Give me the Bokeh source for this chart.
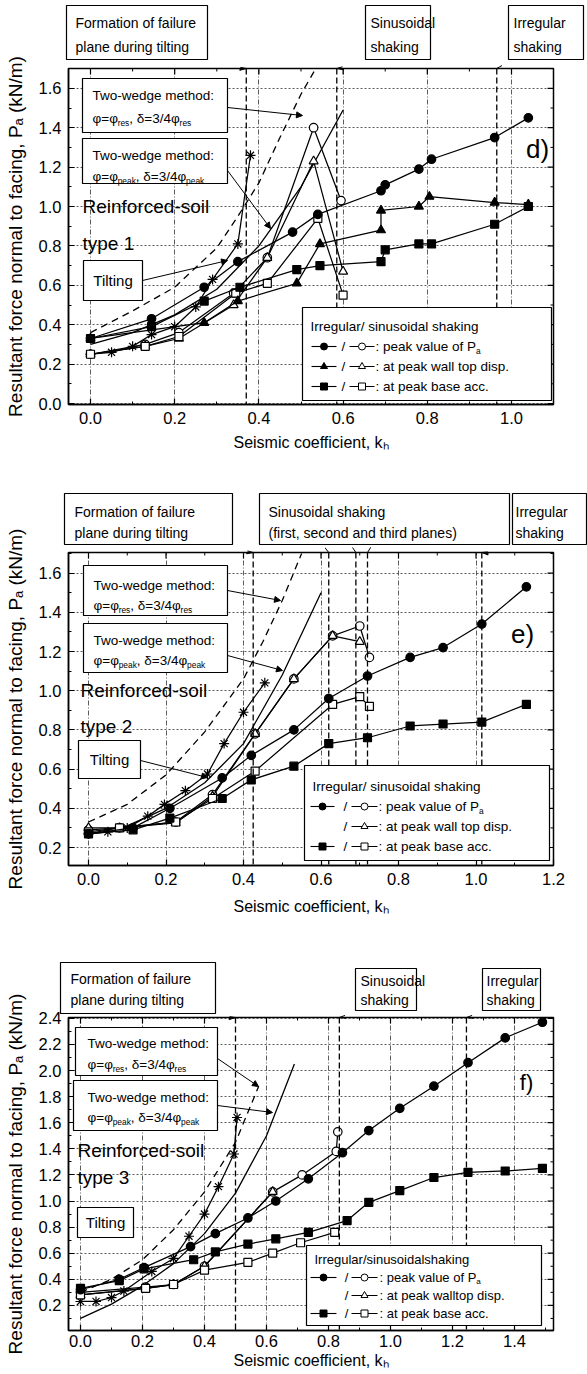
from bokeh.plotting import figure
from bokeh.layouts import column
from bokeh.models import Range1d, Arrow, NormalHead, FixedTicker, NumeralTickFormatter, Span
from bokeh.core.properties import value
from bokeh.embed import file_html
from bokeh.resources import INLINE

FONT = "Liberation Sans"
PAGE_W = 587

# ---------------- panel d : Reinforced-soil type 1 ----------------
d_tilt_x = [0.0, 0.05, 0.10, 0.145, 0.20, 0.25, 0.29, 0.35, 0.38]
d_tilt_y = [0.25, 0.26, 0.29, 0.35, 0.39, 0.49, 0.63, 0.81, 1.26]
d_irr_peak_x = [0.0, 0.145, 0.27, 0.35, 0.48, 0.54, 0.69, 0.70, 0.78, 0.81, 0.96, 1.04]
d_irr_peak_y = [0.33, 0.43, 0.59, 0.72, 0.87, 0.96, 1.08, 1.11, 1.19, 1.24, 1.35, 1.45]
d_irr_disp_x = [0.0, 0.27, 0.35, 0.49, 0.545, 0.69, 0.69, 0.78, 0.805, 0.96, 1.04]
d_irr_disp_y = [0.33, 0.41, 0.52, 0.61, 0.81, 0.88, 0.98, 1.00, 1.05, 1.02, 1.01]
d_irr_acc_x = [0.0, 0.145, 0.27, 0.355, 0.49, 0.545, 0.69, 0.70, 0.78, 0.81, 0.96, 1.04]
d_irr_acc_y = [0.33, 0.39, 0.52, 0.59, 0.68, 0.70, 0.72, 0.78, 0.81, 0.81, 0.91, 1.00]
d_sin_peak_x = [0.0, 0.13, 0.21, 0.34, 0.42, 0.53, 0.595]
d_sin_peak_y = [0.25, 0.30, 0.36, 0.56, 0.74, 1.40, 1.03]
d_sin_disp_x = [0.0, 0.13, 0.21, 0.34, 0.42, 0.53, 0.60]
d_sin_disp_y = [0.25, 0.29, 0.33, 0.50, 0.74, 1.23, 0.67]
d_sin_acc_x = [0.0, 0.13, 0.21, 0.345, 0.42, 0.54, 0.60]
d_sin_acc_y = [0.25, 0.29, 0.34, 0.56, 0.61, 0.94, 0.55]
d_tw_res_x = [0.0, 0.1, 0.2, 0.3, 0.35, 0.4, 0.45, 0.5, 0.535]
d_tw_res_y = [0.36, 0.47, 0.59, 0.79, 0.95, 1.12, 1.35, 1.57, 1.70]
d_tw_peak_x = [0.0, 0.1, 0.2, 0.3, 0.4, 0.5, 0.6]
d_tw_peak_y = [0.30, 0.36, 0.45, 0.58, 0.80, 1.10, 1.49]
d_mark_tilt = [0.37]
d_mark_sin = [0.585]
d_mark_irr = [0.965]
d_xticks = [0.0, 0.2, 0.4, 0.6, 0.8, 1.0]
d_yticks = [0.0, 0.2, 0.4, 0.6, 0.8, 1.0, 1.2, 1.4, 1.6]

# ---------------- panel e : Reinforced-soil type 2 ----------------
e_tilt_x = [0.0, 0.05, 0.10, 0.153, 0.196, 0.25, 0.307, 0.35, 0.40, 0.455]
e_tilt_y = [0.27, 0.28, 0.30, 0.36, 0.42, 0.49, 0.575, 0.73, 0.89, 1.04]
e_irr_peak_x = [0.0, 0.115, 0.21, 0.345, 0.42, 0.53, 0.62, 0.72, 0.83, 0.915, 1.015, 1.13]
e_irr_peak_y = [0.27, 0.30, 0.40, 0.555, 0.67, 0.80, 0.96, 1.075, 1.17, 1.22, 1.34, 1.53]
e_irr_acc_x = [0.0, 0.115, 0.21, 0.345, 0.42, 0.53, 0.62, 0.72, 0.83, 0.915, 1.015, 1.13]
e_irr_acc_y = [0.27, 0.29, 0.35, 0.45, 0.545, 0.615, 0.73, 0.76, 0.82, 0.83, 0.84, 0.93]
e_sin_peak_x = [0.0, 0.08, 0.225, 0.32, 0.43, 0.53, 0.63, 0.70, 0.725]
e_sin_peak_y = [0.29, 0.30, 0.33, 0.47, 0.78, 1.06, 1.28, 1.33, 1.17]
e_sin_disp_x = [0.0, 0.08, 0.225, 0.32, 0.43, 0.53, 0.63, 0.70]
e_sin_disp_y = [0.30, 0.30, 0.325, 0.46, 0.78, 1.06, 1.28, 1.25]
e_sin_acc_x = [0.0, 0.08, 0.225, 0.32, 0.43, 0.63, 0.70, 0.725]
e_sin_acc_y = [0.28, 0.30, 0.33, 0.45, 0.59, 0.93, 0.97, 0.92]
e_tw_res_x = [0.0, 0.1, 0.2, 0.3, 0.4, 0.45, 0.5, 0.55]
e_tw_res_y = [0.33, 0.42, 0.57, 0.79, 1.06, 1.25, 1.46, 1.70]
e_tw_peak_x = [0.0, 0.1, 0.2, 0.3, 0.4, 0.5, 0.6]
e_tw_peak_y = [0.27, 0.31, 0.40, 0.53, 0.73, 1.08, 1.50]
e_mark_tilt = [0.425]
e_mark_sin = [0.62, 0.69, 0.72]
e_mark_irr = [1.015]
e_xticks = [0.0, 0.2, 0.4, 0.6, 0.8, 1.0, 1.2]
e_yticks = [0.2, 0.4, 0.6, 0.8, 1.0, 1.2, 1.4, 1.6]

# ---------------- panel f : Reinforced-soil type 3 ----------------
f_tilt_x = [0.0, 0.05, 0.10, 0.14, 0.23, 0.30, 0.35, 0.40, 0.445, 0.495, 0.505]
f_tilt_y = [0.23, 0.23, 0.26, 0.31, 0.46, 0.56, 0.73, 0.90, 1.11, 1.36, 1.64]
f_irr_peak_x = [0.0, 0.125, 0.205, 0.355, 0.435, 0.54, 0.63, 0.735, 0.845, 0.93, 1.03, 1.14, 1.25, 1.37, 1.49]
f_irr_peak_y = [0.32, 0.40, 0.49, 0.65, 0.75, 0.87, 1.00, 1.17, 1.37, 1.54, 1.71, 1.88, 2.06, 2.25, 2.37]
f_irr_acc_x = [0.0, 0.125, 0.205, 0.365, 0.435, 0.54, 0.63, 0.735, 0.86, 0.93, 1.03, 1.14, 1.25, 1.37, 1.49]
f_irr_acc_y = [0.33, 0.39, 0.48, 0.55, 0.61, 0.67, 0.71, 0.76, 0.85, 0.99, 1.08, 1.18, 1.22, 1.23, 1.25]
f_sin_peak_x = [0.0, 0.21, 0.30, 0.40, 0.62, 0.715, 0.825, 0.83]
f_sin_peak_y = [0.30, 0.34, 0.36, 0.50, 1.07, 1.20, 1.38, 1.53]
f_sin_disp_x = [0.0, 0.21, 0.30, 0.40, 0.62]
f_sin_disp_y = [0.28, 0.33, 0.36, 0.50, 1.07]
f_sin_acc_x = [0.0, 0.21, 0.30, 0.40, 0.54, 0.62, 0.71, 0.82]
f_sin_acc_y = [0.28, 0.33, 0.36, 0.47, 0.53, 0.60, 0.68, 0.76]
f_tw_res_x = [0.0, 0.1, 0.2, 0.3, 0.4, 0.5, 0.575]
f_tw_res_y = [0.30, 0.40, 0.55, 0.78, 1.07, 1.45, 1.88]
f_tw_peak_x = [0.0, 0.1, 0.2, 0.3, 0.4, 0.5, 0.6, 0.69]
f_tw_peak_y = [0.10, 0.21, 0.35, 0.52, 0.75, 1.06, 1.50, 2.05]
f_mark_tilt = [0.50]
f_mark_sin = [0.835]
f_mark_irr = [1.245]
f_xticks = [0.0, 0.2, 0.4, 0.6, 0.8, 1.0, 1.2, 1.4]
f_yticks = [0.0, 0.2, 0.4, 0.6, 0.8, 1.0, 1.2, 1.4, 1.6, 1.8, 2.0, 2.2, 2.4]

X_LABEL = "Seismic coefficient, k\u2095"
Y_LABEL = "Resultant force normal to facing, P\u2090 (kN/m)"

# ---------------- helpers ----------------
_W = {' ': 278, '!': 278, '(': 333, ')': 333, ',': 278, '-': 333, '.': 278, '/': 278, ':': 278, '=': 584,
      'A': 667, 'B': 667, 'C': 722, 'D': 722, 'E': 667, 'F': 611, 'G': 778, 'H': 722, 'I': 278, 'J': 500,
      'K': 667, 'L': 556, 'M': 833, 'N': 722, 'O': 778, 'P': 667, 'R': 722, 'S': 667, 'T': 611, 'U': 722,
      'W': 944, 'a': 556, 'b': 556, 'c': 500, 'd': 556, 'e': 556, 'f': 278, 'g': 556, 'h': 556, 'i': 222,
      'j': 222, 'k': 500, 'l': 222, 'm': 833, 'n': 556, 'o': 556, 'p': 556, 'q': 556, 'r': 333, 's': 500,
      't': 278, 'u': 556, 'v': 500, 'w': 722, 'x': 500, 'y': 500, 'z': 500, '\u03c6': 640, '\u03b4': 556}


def tw(s, fs):
    return sum(_W.get(c, 556) for c in s) / 1000.0 * fs


def txt(p, conv, px, py, s, fs, align="left"):
    x, y = conv(px, py)
    p.text(x=[x], y=[y], text=[s], text_font=value(FONT), text_font_size=f"{fs:.1f}px",
           text_align=align, text_baseline="middle", text_color="black", level="overlay")


def rich(p, conv, px, py, parts, fs):
    cx = px
    for s, sub in parts:
        f = fs * 0.62 if sub else fs
        yy = py + (fs * 0.33 if sub else 0)
        txt(p, conv, cx, yy, s, f)
        cx += tw(s, f)


def box(p, conv, l, t, r, b, lw=1.2):
    x1, y1 = conv(l, t)
    x2, y2 = conv(r, b)
    p.quad(left=[x1], right=[x2], top=[y1], bottom=[y2], fill_color="white", line_color="black",
           line_width=lw, level="overlay")


def arrow(p, conv, x1, y1, x2, y2):
    a, b = conv(x1, y1)
    c, d = conv(x2, y2)
    p.add_layout(Arrow(end=NormalHead(size=6, fill_color="black", line_color="black", line_width=1),
                       x_start=a, y_start=b, x_end=c, y_end=d, line_color="black", line_width=1))


MSIZE = {"circle": 8.5, "triangle": 9, "square": 8, "asterisk": 10}


def series(p, xs, ys, marker, filled):
    p.line(xs, ys, line_color="black", line_width=1.25)
    p.scatter(xs, ys, marker=marker, size=MSIZE[marker], line_color="black", line_width=1.2,
              fill_color="black" if filled else "white")


FRAME_L, FRAME_R = 68, 553


def plot_fig(sp):
    x0, xs, y0, ys = sp["x0"], sp["xs"], sp["y0"], sp["ys"]
    X = lambda px: (px - x0) / xs
    Y = lambda py: (y0 - py) / ys
    L, R, T, B = FRAME_L, FRAME_R, sp["T"], sp["B"]
    top, h = sp["page_top"], sp["h"]
    p = figure(width=PAGE_W, height=h, x_range=Range1d(X(L), X(R)), y_range=Range1d(Y(B), Y(T)),
               output_backend="svg", toolbar_location=None,
               min_border_left=L, min_border_right=PAGE_W - R, min_border_top=T - top,
               min_border_bottom=top + h - B, x_axis_label=X_LABEL, y_axis_label=Y_LABEL)
    p.outline_line_color = "black"
    p.outline_line_width = 1.5
    xt, yt = sp["xticks"], sp["yticks"]
    xlo, xhi, ylo, yhi = X(L), X(R), Y(B), Y(T)
    xminor = [round(v + 0.1, 3) for v in xt] + [round(xt[0] - 0.1, 3)]
    xminor = [v for v in xminor if xlo < v < xhi]
    yminor = [round(v + 0.1, 3) for v in yt] + [round(yt[0] - 0.1, 3)]
    yminor = [v for v in yminor if ylo < v < yhi]
    p.xaxis.ticker = FixedTicker(ticks=xt, minor_ticks=xminor)
    p.yaxis.ticker = FixedTicker(ticks=yt, minor_ticks=yminor)
    for ax in p.axis:
        ax.axis_line_color = "black"
        ax.axis_line_width = 1.5
        ax.major_tick_in = 6
        ax.major_tick_out = 0
        ax.minor_tick_in = 3
        ax.minor_tick_out = 0
        ax.major_tick_line_color = "black"
        ax.minor_tick_line_color = "black"
        ax.major_tick_line_width = 1.2
        ax.formatter = NumeralTickFormatter(format="0.0")
        ax.major_label_text_font = FONT
        ax.major_label_text_color = "black"
        ax.major_label_text_font_size = "16.5px"
        ax.axis_label_text_font = FONT
        ax.axis_label_text_font_style = "normal"
        ax.axis_label_text_color = "black"
    p.xaxis.axis_label_text_font_size = "16px"
    p.yaxis.axis_label_text_font_size = "19px"
    p.xaxis.major_label_standoff = sp["xls"]
    p.xaxis.axis_label_standoff = sp["xas"]
    p.yaxis.major_label_standoff = 7
    p.yaxis.axis_label_standoff = 10
    # mirrored ticks on the top and right edges of the frame
    tk, tm = 6.0, 3.0
    p.segment(x0=xt, y0=[yhi] * len(xt), x1=xt, y1=[yhi - tk / ys] * len(xt), line_color="black", line_width=1.2)
    p.segment(x0=xminor, y0=[yhi] * len(xminor), x1=xminor, y1=[yhi - tm / ys] * len(xminor),
              line_color="black", line_width=1)
    p.segment(x0=[xhi] * len(yt), y0=yt, x1=[xhi - tk / xs] * len(yt), y1=yt, line_color="black", line_width=1.2)
    p.segment(x0=[xhi] * len(yminor), y0=yminor, x1=[xhi - tm / xs] * len(yminor), y1=yminor,
              line_color="black", line_width=1)
    p.xgrid.grid_line_color = "#333333"
    p.xgrid.grid_line_dash = "5 2 1 2"
    p.xgrid.grid_line_width = 0.8
    p.ygrid.grid_line_color = "#333333"
    p.ygrid.grid_line_dash = "2 2"
    p.ygrid.grid_line_width = 0.8
    conv = lambda px, py: (X(px), Y(py))
    return p, conv


def draw_panel(p, conv, D, sp):
    for v in D["mtilt"] + D["msin"] + D["mirr"]:
        p.add_layout(Span(location=v, dimension="height", line_color="black", line_width=1.3, line_dash="6 3"))
    p.line(D["rx"], D["ry"], line_color="black", line_width=1.3, line_dash="7 5")
    p.line(D["px"], D["py"], line_color="black", line_width=1.3)
    series(p, D["tx"], D["ty"], "asterisk", False)
    for k, m in (("sp", "circle"), ("sd", "triangle"), ("sa", "square")):
        if k + "x" in D:
            series(p, D[k + "x"], D[k + "y"], m, False)
    for k, m in (("ip", "circle"), ("id", "triangle"), ("ia", "square")):
        if k + "x" in D:
            series(p, D[k + "x"], D[k + "y"], m, True)

    # two-wedge boxes
    for (l, t, r, b, y1, y2, tx, sub) in sp["tw_boxes"]:
        box(p, conv, l, t, r, b)
        txt(p, conv, tx, y1, "Two-wedge method:", 13.5)
        rich(p, conv, tx, y2, [("\u03c6=\u03c6", False), (sub, True), (", \u03b4=3/4\u03c6", False), (sub, True)], 13.5)
    for (x1, y1, x2, y2) in sp["tw_arrows"]:
        arrow(p, conv, x1, y1, x2, y2)
    rx, ry1, ry2, tp = sp["rs"]
    txt(p, conv, rx, ry1, "Reinforced-soil", 19)
    txt(p, conv, rx, ry2, tp, 19)
    l, t, r, b = sp["tilt_box"]
    box(p, conv, l, t, r, b)
    txt(p, conv, (l + r) / 2, (t + b) / 2, "Tilting", 15, align="center")
    if sp.get("tilt_arrow"):
        arrow(p, conv, *sp["tilt_arrow"])
    lx, ly, lt, lfs = sp["letter"]
    txt(p, conv, lx, ly, lt, lfs, align="center")
    # legend
    lg = sp["legend"]
    box(p, conv, lg["L"], lg["T"], lg["R"], lg["B"])
    fs = lg["fs"]
    txt(p, conv, lg["L"] + 8, lg["ty"], lg["title"], fs)
    rows = [("circle", True, [(": peak value of P", False), ("a", True)]),
            ("triangle", lg["filled_tri"], [(": " + lg["disp"], False)]),
            ("square", True, [(": at peak base acc.", False)])]
    fx1, fx2, sx, ox1, ox2, tx = lg["xs"]
    for (m, has_f, parts), yy in zip(rows, lg["rows"]):
        if has_f:
            a, b = conv(fx1, yy)
            c, _ = conv(fx2, yy)
            p.segment(x0=[a], y0=[b], x1=[c], y1=[b], line_color="black", line_width=1.1, level="overlay")
            mx, _ = conv((fx1 + fx2) / 2, yy)
            p.scatter([mx], [b], marker=m, size=7, fill_color="black", line_color="black", level="overlay")
        txt(p, conv, sx, yy, "/", fs, align="center")
        a, b = conv(ox1, yy)
        c, _ = conv(ox2, yy)
        p.segment(x0=[a], y0=[b], x1=[c], y1=[b], line_color="black", line_width=1.0, level="overlay")
        mx, _ = conv((ox1 + ox2) / 2, yy)
        p.scatter([mx], [b], marker=m, size=7, fill_color="white", line_color="black", level="overlay")
        rich(p, conv, tx, yy, parts, fs)
    # annotation boxes above the frame
    for (l, t, r, b, lines, tx, ys_) in sp["top_boxes"]:
        box(p, conv, l, t, r, b)
        for line, yy in zip(lines, ys_):
            txt(p, conv, tx, yy, line, 14)
    # arrows from the boxes to the event lines (target from the marker data)
    for (x1, y1, v) in sp["top_arrows"]:
        px_v = sp["x0"] + v * sp["xs"]
        arrow(p, conv, x1, y1, px_v, sp["T"])


# ---------------- panel specs (layout in page pixels) ----------------
SPEC_D = dict(page_top=0, h=470, T=68, B=404, x0=90, xs=421, y0=403, ys=197,
              xticks=d_xticks, yticks=d_yticks, xls=7, xas=7,
              tw_boxes=[(82, 78, 227, 132, 95, 118, 92, "res"), (82, 138, 227, 183, 155, 176, 92, "peak")],
              tw_arrows=[(227, 107, 302, 115), (227, 170, 270, 228)],
              rs=(82, 206, 243, "type 1"), tilt_box=(83, 260, 142, 300), tilt_arrow=(142, 280, 227, 260),
              letter=(537, 148, "d)", 26),
              legend=dict(L=302, T=307, R=551, B=400, ty=326, rows=[346, 366, 386], fs=13.5,
                          title="Irregular/ sinusoidal shaking", filled_tri=True, disp="at peak wall top disp.",
                          xs=(311, 336, 343, 349, 374, 375)),
              top_boxes=[(66, 5, 207, 59, ["Formation of failure", "plane during tilting"], 75, [22, 46]),
                         (365, 5, 430, 59, ["Sinusoidal", "shaking"], 370, [22, 46]),
                         (508, 5, 583, 59, ["Irregular", "shaking"], 513, [22, 46])],
              top_arrows=[(200, 59, d_mark_tilt[0]), (367, 59, d_mark_sin[0]), (512, 59, d_mark_irr[0])])
SPEC_E = dict(page_top=470, h=480, T=552, B=865, x0=88, xs=387.5, y0=886.2, ys=196,
              xticks=e_xticks, yticks=e_yticks, xls=7, xas=10,
              tw_boxes=[(83, 565, 227, 615, 585, 605, 93, "res"), (83, 623, 227, 672, 640, 660, 93, "peak")],
              tw_arrows=[(227, 590, 280, 600), (227, 655, 282, 670)],
              rs=(80, 690, 726, "type 2"), tilt_box=(78, 740, 140, 778), tilt_arrow=(140, 760, 207, 777),
              letter=(522, 633, "e)", 26),
              legend=dict(L=304, T=765, R=549, B=860, ty=786, rows=[806, 826, 846], fs=13.5,
                          title="Irregular/ sinusoidal shaking", filled_tri=False, disp="at peak wall top disp.",
                          xs=(310, 334, 345, 351, 377, 378)),
              top_boxes=[(64, 493, 232, 544, ["Formation of failure", "plane during tilting"], 74, [511, 532]),
                         (259, 493, 509, 544, ["Sinusoidal shaking", "(first, second and third planes)"], 268, [511, 532]),
                         (512, 493, 586, 544, ["Irregular", "shaking"], 515, [511, 532])],
              top_arrows=[(224, 544, e_mark_tilt[0]), (322, 544, e_mark_sin[0]), (350, 544, e_mark_sin[1]),
                          (372, 544, e_mark_sin[2]), (570, 544, e_mark_irr[0])])
SPEC_F = dict(page_top=950, h=424, T=1017, B=1330, x0=80, xs=310, y0=1331, ys=130.5,
              xticks=f_xticks, yticks=f_yticks, xls=4, xas=2,
              tw_boxes=[(75, 1027, 217, 1075, 1043, 1064, 87, "res"), (73, 1080, 217, 1130, 1097, 1117, 87, "peak")],
              tw_arrows=[(217, 1058, 258, 1086), (217, 1105, 272, 1112)],
              rs=(77, 1150, 1177, "type 3"), tilt_box=(77, 1207, 133, 1237), tilt_arrow=None,
              letter=(526, 1082, "f)", 22),
              legend=dict(L=306, T=1245, R=541, B=1325, ty=1259, rows=[1277, 1295, 1313], fs=13,
                          title="Irregular/sinusoidalshaking", filled_tri=False, disp="at peak walltop disp.",
                          xs=(310, 336, 346, 351, 377, 379)),
              top_boxes=[(60, 962, 215, 1013, ["Formation of failure", "plane during tilting"], 70, [978, 999]),
                         (355, 968, 416, 1010, ["Sinusoidal", "shaking"], 360, [980, 999]),
                         (482, 968, 540, 1010, ["Irregular", "shaking"], 486, [980, 999])],
              top_arrows=[(207, 1013, f_mark_tilt[0]), (358, 1010, f_mark_sin[0]), (485, 1010, f_mark_irr[0])])

DATA_D = dict(tx=d_tilt_x, ty=d_tilt_y, ipx=d_irr_peak_x, ipy=d_irr_peak_y, idx=d_irr_disp_x, idy=d_irr_disp_y,
              iax=d_irr_acc_x, iay=d_irr_acc_y, spx=d_sin_peak_x, spy=d_sin_peak_y, sdx=d_sin_disp_x,
              sdy=d_sin_disp_y, sax=d_sin_acc_x, say=d_sin_acc_y, rx=d_tw_res_x, ry=d_tw_res_y,
              px=d_tw_peak_x, py=d_tw_peak_y, mtilt=d_mark_tilt, msin=d_mark_sin, mirr=d_mark_irr)
DATA_E = dict(tx=e_tilt_x, ty=e_tilt_y, ipx=e_irr_peak_x, ipy=e_irr_peak_y,
              iax=e_irr_acc_x, iay=e_irr_acc_y, spx=e_sin_peak_x, spy=e_sin_peak_y, sdx=e_sin_disp_x,
              sdy=e_sin_disp_y, sax=e_sin_acc_x, say=e_sin_acc_y, rx=e_tw_res_x, ry=e_tw_res_y,
              px=e_tw_peak_x, py=e_tw_peak_y, mtilt=e_mark_tilt, msin=e_mark_sin, mirr=e_mark_irr)
DATA_F = dict(tx=f_tilt_x, ty=f_tilt_y, ipx=f_irr_peak_x, ipy=f_irr_peak_y,
              iax=f_irr_acc_x, iay=f_irr_acc_y, spx=f_sin_peak_x, spy=f_sin_peak_y, sdx=f_sin_disp_x,
              sdy=f_sin_disp_y, sax=f_sin_acc_x, say=f_sin_acc_y, rx=f_tw_res_x, ry=f_tw_res_y,
              px=f_tw_peak_x, py=f_tw_peak_y, mtilt=f_mark_tilt, msin=f_mark_sin, mirr=f_mark_irr)

children = []
for sp, D in ((SPEC_D, DATA_D), (SPEC_E, DATA_E), (SPEC_F, DATA_F)):
    p, conv = plot_fig(sp)
    draw_panel(p, conv, D, sp)
    children.append(p)

layout = column(*children, spacing=0)
open("out.html", "w").write(file_html(layout, INLINE))
